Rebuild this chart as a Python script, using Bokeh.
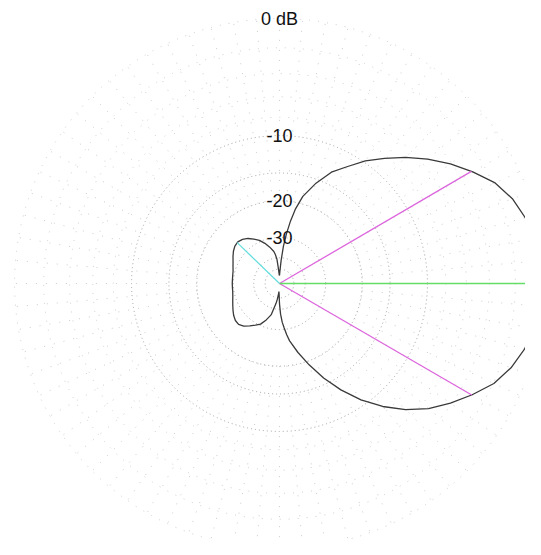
import numpy as np
from bokeh.plotting import figure
from bokeh.models import Range1d
from bokeh.embed import file_html
from bokeh.resources import INLINE
from bokeh.core.properties import value

# ---- data ----
# azimuth pattern: angle in degrees (0 = right, counter-clockwise), gain in dB
pattern_deg = [0, 5, 10, 15, 20, 25, 30, 35, 40, 45, 50, 55, 60, 65, 70, 75, 78, 80, 82, 84, 86, 88, 90,
               92, 94, 96, 98, 100, 105, 110, 115, 120, 125, 130, 135, 140, 145, 150, 155, 160, 165, 170, 175,
               180, 185, 190, 195, 200, 205, 210, 215, 220, 225, 230, 235, 240, 245, 250, 255, 260, 262, 264,
               266, 268, 270, 272, 274, 276, 278, 280, 285, 290, 295, 300, 305, 310, 315, 320, 325, 330, 335,
               340, 345, 350, 355, 360]
pattern_db = [-0.15, -0.2, -0.35, -0.7, -1.15, -1.85, -2.95, -4.1, -5.4, -6.8, -8.3, -9.8, -11.6, -13.2,
              -15.6, -18.5, -21.5, -24.5, -28.5, -33.5, -42, -52, -60,
              -58, -50, -41, -38, -36, -33.5, -31.3, -29.5, -28.2, -27.0, -26.2, -25.8, -26.0, -26.6, -27.4,
              -28.2, -28.8, -29.3, -29.5, -29.6,
              -29.6, -29.6, -29.5, -29.2, -28.7, -28.1, -27.4, -26.7, -26.2, -26.1, -26.8, -28.0, -29.3,
              -30.5, -33.0, -36.0, -44.0, -48.0, -53.0,
              -60, -55, -44, -37, -33, -30.5, -28, -26.0, -22.5, -19.2, -16.0, -13.2, -10.7, -8.6, -6.8,
              -5.3, -4.1, -3.0, -1.95, -1.25, -0.75, -0.45, -0.2, -0.15]

ring_db = [0, -2, -4, -6, -8, -10, -15, -20, -30, -40, -50]
major_ring_db = [-10, -15, -20, -30, -40, -50]
ring_labels = ["0 dB", "-10", "-20", "-30"]
ring_label_db = [0, -10, -20, -30]
spoke_step_deg = 5

beam_edge_deg = [30.3, -30.1]   # -3 dB beamwidth edges (magenta)
main_dir_deg = [0.0]             # main lobe direction (green)
rear_max_deg = [136.0]           # rear lobe maximum (cyan)

# ---- ARRL log scale ----
R = 265.0


def scale(db):
    return R * 0.89 ** (-np.asarray(db, dtype=float) / 2.0)


W, H = 525, 539
cx, cy = 279, 283  # centre in figure pixels (from left / from top)

p = figure(width=W, height=H, output_backend="svg", toolbar_location=None,
           x_range=Range1d(-cx, W - cx), y_range=Range1d(-(H - cy), cy),
           min_border=0, outline_line_color=None)
p.axis.visible = False
p.grid.visible = False
p.background_fill_color = "white"
p.border_fill_color = "white"

# spokes
sp = np.deg2rad(np.arange(0, 360, spoke_step_deg))
r0 = scale(-20)
r1 = scale(0)
p.segment(x0=r0 * np.cos(sp), y0=r0 * np.sin(sp), x1=r1 * np.cos(sp), y1=r1 * np.sin(sp),
          line_color="#cccccc", line_width=1, line_dash="1 9")

# rings
minor = [d for d in ring_db if d not in major_ring_db]
p.circle(x=[0] * len(minor), y=[0] * len(minor), radius=list(scale(minor)),
         fill_color=None, line_color="#cccccc", line_width=1, line_dash="1 8")
p.circle(x=[0] * len(major_ring_db), y=[0] * len(major_ring_db), radius=list(scale(major_ring_db)),
         fill_color=None, line_color="#a0a0a0", line_width=1, line_dash="1 3")

# pattern
th = np.deg2rad(pattern_deg)
rr = scale(pattern_db)
p.line(rr * np.cos(th), rr * np.sin(th), line_color="#3a3a3a", line_width=1.3)


def ray(deg_list, color):
    d = np.asarray(deg_list, dtype=float)
    g = np.interp(np.mod(d, 360), pattern_deg, pattern_db)
    r = scale(g)
    a = np.deg2rad(d)
    p.segment(x0=np.zeros(len(d)), y0=np.zeros(len(d)), x1=r * np.cos(a), y1=r * np.sin(a),
              line_color=color, line_width=1.3)
    return r, a


ray(beam_edge_deg, "#dd66dd")
r_m, a_m = ray(main_dir_deg, "#66dd66")
p.scatter(r_m * np.cos(a_m), r_m * np.sin(a_m), size=5, marker="circle",
          fill_color="#44cc44", line_color="#44cc44")
ray(rear_max_deg, "#66dddd")

# labels
p.text(x=[0] * len(ring_labels), y=list(scale(ring_label_db)), text=ring_labels,
       text_align="center", text_baseline="middle", text_font=value("Liberation Sans"),
       text_font_size="18px", text_color="#111111")

open("out.html", "w").write(file_html(p, INLINE))
